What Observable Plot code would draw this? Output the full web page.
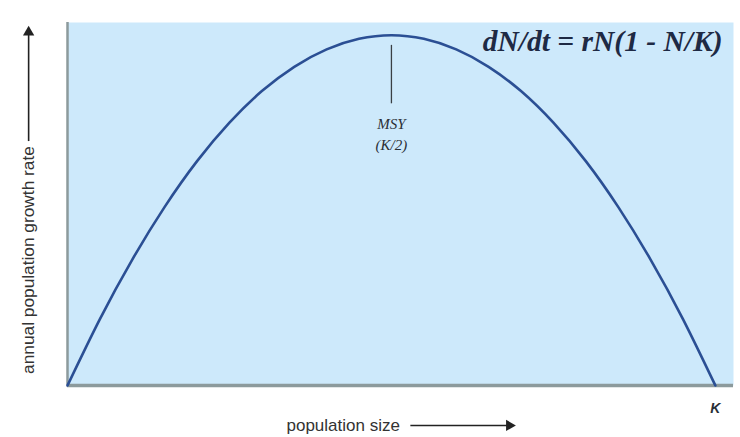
<!DOCTYPE html>
<html>
<head>
<meta charset="utf-8">
<script src="https://cdn.jsdelivr.net/npm/d3@7"></script>
<script src="https://cdn.jsdelivr.net/npm/@observablehq/plot@0.6"></script>
<style>
  html, body { margin: 0; padding: 0; background: #fff; }
</style>
</head>
<body>
<div id="chart"></div>
<script>
// Population size as fraction of carrying capacity K
const populationSize = [0, 0.05, 0.1, 0.15, 0.2, 0.25, 0.3, 0.35, 0.4, 0.45, 0.5, 0.55, 0.6, 0.65, 0.7, 0.75, 0.8, 0.85, 0.9, 0.95, 1];
// Annual population growth rate (relative units)
const growthRate = [0, 18.3, 34.7, 49.2, 61.8, 72.4, 81.1, 87.8, 92.6, 95.5, 96.5, 95.5, 92.6, 87.8, 81.1, 72.4, 61.8, 49.2, 34.7, 18.3, 0];

const equationLabel = "dN/dt = rN(1 - N/K)";
const msyLabel = ["MSY", "(K/2)"];
const xAxisLabel = "population size";
const yAxisLabel = "annual population growth rate";
const kLabel = "K";

const data = populationSize.map((n, i) => ({n, g: growthRate[i]}));
const peak = data[growthRate.indexOf(d3.max(growthRate))];

const chart = Plot.plot({
  width: 740,
  height: 437,
  marginLeft: 67,
  marginRight: 7,
  marginTop: 22,
  marginBottom: 52,
  x: {domain: [0, 1.028], axis: null},
  y: {domain: [0, 100], axis: null},
  style: {background: "#fff", overflow: "visible"},
  marks: [
    Plot.frame({fill: "#cde9fb", stroke: "none"}),
    Plot.ruleX([0], {stroke: "#8c9a9c", strokeWidth: 2.5}),
    Plot.ruleY([0], {stroke: "#8c9a9c", strokeWidth: 3.5}),
    Plot.line(data, {x: "n", y: "g", curve: "natural", stroke: "#2b4f94", strokeWidth: 2.6}),
    // MSY marker
    Plot.ruleX([peak], {x: "n", y1: 93.7, y2: 77.6, stroke: "#3a3f44", strokeWidth: 1.3}),
    Plot.text([msyLabel[0]], {x: peak.n, y: 72.0, text: d => d, fontFamily: "Liberation Serif", fontStyle: "italic", fontSize: 15, fill: "#2a2f36"}),
    Plot.text([msyLabel[1]], {x: peak.n, y: 66.3, text: d => d, fontFamily: "Liberation Serif", fontStyle: "italic", fontSize: 15, fill: "#2a2f36"}),
    // Equation
    Plot.text([equationLabel], {x: 0.826, y: 94.8, text: d => d, fontFamily: "Liberation Serif", fontStyle: "italic", fontWeight: "bold", fontSize: 29.5, fill: "#1e2a44"}),
    // K label
    Plot.text([kLabel], {x: 1, y: -6.3, text: d => d, fontFamily: "Liberation Sans", fontStyle: "italic", fontWeight: "bold", fontSize: 14, fill: "#2a2f36"}),
    // x axis label and arrow
    Plot.text([xAxisLabel], {x: 0.338, y: -11, text: d => d, textAnchor: "start", fontFamily: "Liberation Sans", fontSize: 17, fill: "#333"}),
    Plot.ruleY([-11], {x1: 0.53, x2: 0.68, stroke: "#222", strokeWidth: 1.6}),
    Plot.dot([0], {x: 0.682, y: -11, symbol: "triangle", rotate: 90, r: 4.2, fill: "#222", stroke: "none"}),
    // y axis label and arrow
    Plot.text([yAxisLabel], {x: -0.06, y: 3.2, text: d => d, rotate: -90, textAnchor: "start", fontFamily: "Liberation Sans", fontSize: 17.3, fill: "#333"}),
    Plot.ruleX([-0.06], {y1: 67.2, y2: 97, stroke: "#222", strokeWidth: 1.6}),
    Plot.dot([0], {x: -0.06, y: 97.3, symbol: "triangle", r: 4.2, fill: "#222", stroke: "none"})
  ]
});

document.getElementById("chart").appendChild(chart);
</script>
</body>
</html>
